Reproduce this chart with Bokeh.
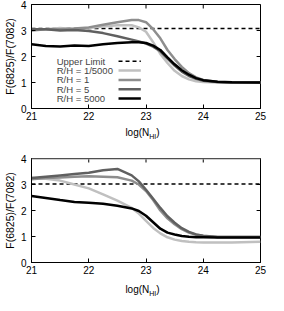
from bokeh.plotting import figure
from bokeh.models import Range1d, Label, Span, FixedTicker, Div
from bokeh.layouts import column
from bokeh.embed import file_html
from bokeh.resources import INLINE

# ---- data ----
X = [21, 21.25, 21.5, 21.75, 22, 22.25, 22.5, 22.75, 22.875, 23, 23.125, 23.25,
     23.375, 23.5, 23.625, 23.75, 23.875, 24, 24.25, 24.5, 25]

top_rh_1_5000 = [3.05, 3.05, 3.10, 3.05, 3.10, 3.15, 3.20, 3.20, 3.12, 2.95, 2.55, 2.10,
                 1.75, 1.45, 1.25, 1.12, 1.05, 1.02, 1.00, 1.00, 1.00]
top_rh_1 = [3.00, 3.05, 3.05, 3.08, 3.12, 3.22, 3.32, 3.40, 3.40, 3.32, 3.05, 2.70,
            2.25, 1.90, 1.60, 1.36, 1.20, 1.10, 1.02, 1.00, 1.00]
top_rh_5 = [3.05, 3.05, 3.00, 3.02, 2.98, 2.90, 2.78, 2.65, 2.58, 2.50, 2.38, 2.20,
            1.92, 1.65, 1.42, 1.25, 1.14, 1.07, 1.02, 1.00, 1.00]
top_rh_5000 = [2.47, 2.40, 2.38, 2.42, 2.40, 2.47, 2.52, 2.55, 2.55, 2.52, 2.42, 2.25,
               1.97, 1.70, 1.47, 1.30, 1.17, 1.09, 1.03, 1.01, 1.00]
top_upper_limit = 3.08

bot_rh_1_5000 = [3.25, 3.22, 3.15, 3.00, 2.85, 2.62, 2.38, 2.10, 1.88, 1.60, 1.33, 1.12,
                 0.97, 0.88, 0.83, 0.80, 0.78, 0.77, 0.77, 0.77, 0.80]
bot_rh_1 = [3.20, 3.25, 3.27, 3.30, 3.32, 3.30, 3.28, 3.15, 3.00, 2.75, 2.40, 2.00,
            1.70, 1.47, 1.28, 1.15, 1.07, 1.02, 0.98, 0.98, 0.98]
bot_rh_5 = [3.25, 3.30, 3.35, 3.40, 3.45, 3.55, 3.60, 3.35, 3.12, 2.80, 2.45, 2.10,
            1.78, 1.53, 1.32, 1.18, 1.08, 1.03, 0.98, 0.98, 0.98]
bot_rh_5000 = [2.56, 2.48, 2.40, 2.33, 2.30, 2.26, 2.18, 2.08, 1.98, 1.80, 1.55, 1.30,
               1.15, 1.08, 1.02, 0.99, 0.97, 0.97, 0.96, 0.96, 0.96]
bot_upper_limit = 3.02

x_ticks = [21, 22, 23, 24, 25]
y_ticks = [0, 1, 2, 3, 4]
series_labels = ["R/H = 1/5000", "R/H = 1", "R/H = 5", "R/H = 5000"]
limit_label = "Upper Limit"
y_title = "F(6825)/F(7082)"
x_title_main, x_title_sub = "log(N", "HI"

# ---- styles ----
COLORS = ["#c0c0c0", "#8e8e8e", "#606060", "#000000"]
LW = 2.5
FONT = "Liberation Sans"
X_MIN, X_MAX, Y_MIN, Y_MAX = 21, 25, 0, 4
TICK_X, TICK_Y = 0.068, 0.154   # 4px inward mirror ticks


def make_fig(height, bottom_border, curves, limit, top_gray=False):
    p = figure(width=268, height=height, output_backend="svg", toolbar_location=None,
               x_range=Range1d(X_MIN, X_MAX), y_range=Range1d(Y_MIN, Y_MAX),
               min_border_left=25, min_border_right=8, min_border_top=4,
               min_border_bottom=bottom_border)
    p.grid.visible = False
    p.outline_line_color = "black"
    p.outline_line_width = 1
    p.background_fill_color = "white"
    p.border_fill_color = "white"
    for ax, tk in ((p.xaxis[0], x_ticks), (p.yaxis[0], y_ticks)):
        ax.ticker = FixedTicker(ticks=tk)
        ax.major_tick_in = 4
        ax.major_tick_out = 0
        ax.minor_tick_in = 0
        ax.minor_tick_out = 0
        ax.major_label_text_font = FONT
        ax.major_label_text_font_size = "10px"
        ax.major_label_text_color = "black"
        ax.axis_line_color = "black"
    p.xaxis.major_label_standoff = 3
    p.yaxis.major_label_standoff = 5
    p.yaxis.axis_label = y_title
    p.yaxis.axis_label_text_font = FONT
    p.yaxis.axis_label_text_font_size = "10.5px"
    p.yaxis.axis_label_text_font_style = "normal"
    p.yaxis.axis_label_standoff = 2
    p.yaxis.axis_label_text_color = "black"
    # mirror ticks on top and right edges
    p.segment(x0=x_ticks, y0=[Y_MAX] * len(x_ticks), x1=x_ticks,
              y1=[Y_MAX - TICK_Y] * len(x_ticks), line_color="black", line_width=1)
    p.segment(x0=[X_MAX] * len(y_ticks), y0=y_ticks, x1=[X_MAX - TICK_X] * len(y_ticks),
              y1=y_ticks, line_color="black", line_width=1)
    if top_gray:
        p.add_layout(Span(location=Y_MAX, dimension="width", line_color="#a0a0a0",
                          line_width=2))
    p.line(X, [limit] * len(X), line_color="black", line_width=1.5, line_dash="4 3")
    for ys, c in zip(curves, COLORS):
        p.line(X, ys, line_color=c, line_width=LW)
    return p


def x_title_div(height):
    html = ('<div style="width:235px;margin-left:25px;text-align:center;'
            'font-family:\'Liberation Sans\';font-size:10px;line-height:12px;color:black">'
            f'{x_title_main}<sub style="font-size:7px;line-height:0">{x_title_sub}</sub>)</div>')
    return Div(text=html, width=268, height=height, margin=(0, 0, 0, 0))


p1 = make_fig(124, 16, [top_rh_1_5000, top_rh_1, top_rh_5, top_rh_5000], top_upper_limit)
p2 = make_fig(127, 19, [bot_rh_1_5000, bot_rh_1, bot_rh_5, bot_rh_5000], bot_upper_limit,
              top_gray=True)

# legend (gnuplot style: text left, sample right) in top panel
LEG_TEXT_X, LEG_X0, LEG_X1 = 21.44, 22.52, 22.91
LEG_Y0, LEG_DY = 1.82, 0.36
leg_labels = [limit_label] + series_labels
leg_colors = ["black"] + COLORS
leg_dash = ["4 3", "solid", "solid", "solid", "solid"]
leg_width = [1.5, LW, LW, LW, LW]
for i, (lab, c, d, w) in enumerate(zip(leg_labels, leg_colors, leg_dash, leg_width)):
    yy = LEG_Y0 - i * LEG_DY
    p1.add_layout(Label(x=LEG_TEXT_X, y=yy, text=lab, text_font=FONT, text_font_size="9.5px",
                        text_baseline="middle", text_align="left"))
    p1.line([LEG_X0, LEG_X1], [yy, yy], line_color=c, line_width=w, line_dash=d)

layout = column(p1, x_title_div(30), p2, x_title_div(14), spacing=0)
open("out.html", "w").write(file_html(layout, INLINE))
